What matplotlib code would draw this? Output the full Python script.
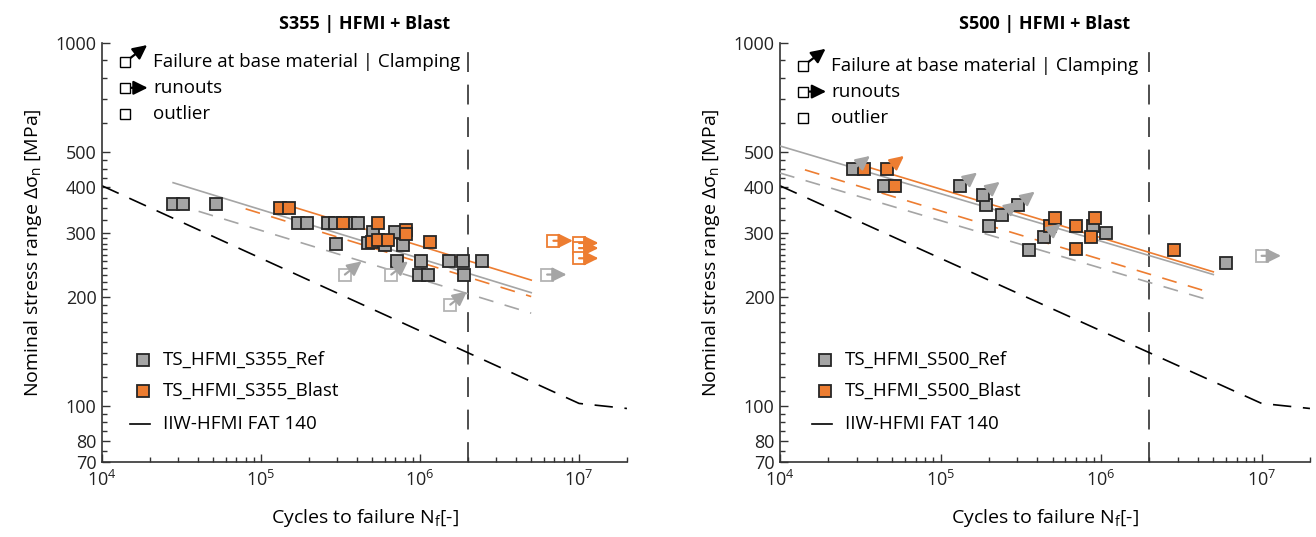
import numpy as np
import matplotlib
matplotlib.use('Agg')
import matplotlib.pyplot as plt
from matplotlib.ticker import FixedLocator, NullFormatter, FuncFormatter

plt.rcParams['font.family'] = ['Open Sans', 'DejaVu Sans']
plt.rcParams['mathtext.fontset'] = 'custom'
plt.rcParams['mathtext.rm'] = 'Open Sans'
plt.rcParams['mathtext.it'] = 'Open Sans'

# ---------------- S355 data ----------------
s355_ref_N = [2.79e4, 3.24e4, 5.2e4, 1.7e5, 1.95e5, 2.65e5, 2.92e5, 3.63e5, 4.07e5,
              2.96e5, 5.08e5, 4.73e5, 6.0e5, 6.97e5, 7.85e5, 7.13e5, 1.02e6,
              9.8e5, 1.13e6, 1.53e6, 1.85e6, 1.89e6, 2.44e6]
s355_ref_S = [359, 359, 359, 318, 318, 318, 318, 318, 318,
              279, 302, 281, 278, 302, 278, 250, 250,
              230, 230, 250, 250, 230, 250]
s355_blast_N = [1.32e5, 1.51e5, 3.3e5, 5.47e5, 5.0e5, 5.47e5, 6.3e5, 8.2e5, 8.2e5, 1.16e6]
s355_blast_S = [350, 350, 318, 318, 282, 286, 286, 306, 297, 283]
# failure at base material / clamping (open, arrow NE)
s355_clamp_N = [3.37e5, 6.6e5, 1.55e6]
s355_clamp_S = [230, 230, 190]
# runouts (open, arrow right)
s355_ref_run_N = [6.3e6]
s355_ref_run_S = [230]
s355_blast_run_N = [6.9e6, 1.0e7, 1.0e7, 1.0e7]
s355_blast_run_S = [285, 281, 272, 255]
# regression lines (mean, characteristic)
s355_ref_mean_N, s355_ref_mean_S = [2.8e4, 5e6], [412, 205]
s355_ref_char_N, s355_ref_char_S = [2.8e4, 5e6], [361, 180]
s355_blast_mean_N, s355_blast_mean_S = [1.3e5, 5e6], [363, 222]
s355_blast_char_N, s355_blast_char_S = [8e4, 5e6], [349, 200]

# ---------------- S500 data ----------------
s500_ref_N = [4.46e4, 1.93e5, 2.0e5, 3.56e5, 8.9e5, 1.08e6, 6.0e6]
s500_ref_S = [404, 358, 313, 269, 312, 300, 247]
s500_ref_base_N = [2.86e4, 1.33e5, 1.84e5, 2.4e5, 3.04e5, 4.42e5]
s500_ref_base_S = [449, 404, 381, 336, 358, 292]
s500_blast_N = [3.33e4, 5.2e4, 4.79e5, 5.14e5, 6.95e5, 6.95e5, 9.1e5, 8.7e5, 2.83e6]
s500_blast_S = [449, 404, 313, 329, 313, 270, 329, 292, 269]
s500_blast_base_N = [4.66e4]
s500_blast_base_S = [449]
s500_ref_run_N = [1.0e7]
s500_ref_run_S = [259]
s500_ref_mean_N, s500_ref_mean_S = [1e4, 5e6], [520, 230]
s500_ref_char_N, s500_ref_char_S = [1e4, 5e6], [438, 194]
s500_blast_mean_N, s500_blast_mean_S = [3e4, 5e6], [465, 234]
s500_blast_char_N, s500_blast_char_S = [1.43e4, 5e6], [447, 204]

# IIW-HFMI FAT 140 design curve (knee points)
fat_N = [1e4, 1e7, 2e7]
fat_S = [404, 101.5, 98.3]
N_ref = 2e6

GRAY = '#a5a5a5'
ORANGE = '#ed7d31'
EDGE = '#262626'
OPEN_GRAY = '#b4b4b4'

y_major = [70, 80, 100, 200, 300, 400, 500, 1000]
y_minor = [75, 85, 90, 95] + list(range(110, 300, 10)) + [325, 350, 375, 425, 450, 475, 600, 700, 800, 900]

TXT = 13.5


def arrow(ax, n, s, dx, dy, color, z=6):
    ax.annotate('', xy=(n, s), xytext=(dx, dy), textcoords='offset points',
                arrowprops=dict(arrowstyle='<|-,head_length=0.85,head_width=0.42',
                                color=color, lw=1.6, shrinkA=0, shrinkB=0,
                                mutation_scale=10),
                annotation_clip=False, zorder=z)


def filled(ax, N, S, color):
    ax.plot(N, S, 's', ls='none', ms=8.5, mfc=color, mec=EDGE, mew=1.3, zorder=4)


def opened(ax, N, S, color):
    ax.plot(N, S, 's', ls='none', ms=8.5, mfc='white', mec=color, mew=1.3, zorder=4)


def setup_axes(ax, title):
    ax.set_xscale('log')
    ax.set_yscale('log')
    ax.set_xlim(1e4, 2e7)
    ax.set_ylim(70, 1000)
    ax.yaxis.set_major_locator(FixedLocator(y_major))
    ax.yaxis.set_major_formatter(FuncFormatter(lambda v, p: f'{v:g}'))
    ax.yaxis.set_minor_locator(FixedLocator(y_minor))
    ax.yaxis.set_minor_formatter(NullFormatter())
    for sp in ['top', 'right']:
        ax.spines[sp].set_visible(False)
    for sp in ['left', 'bottom']:
        ax.spines[sp].set_color('#333333')
        ax.spines[sp].set_linewidth(1.2)
    ax.tick_params(which='both', direction='in', colors='#333333', labelcolor='#222222',
                   labelsize=13, width=1.0)
    ax.tick_params(which='major', length=6)
    ax.tick_params(which='minor', length=3.5)
    ax.tick_params(axis='x', pad=6)
    ax.tick_params(axis='y', pad=4)
    ax.set_title(title, fontsize=13, fontweight='bold', pad=10)
    ax.set_ylabel(r'Nominal stress range $\Delta\sigma_n$ [MPa]', fontsize=14, labelpad=8)
    ax.set_xlabel(r'Cycles to failure N$_f$[-]', fontsize=14, labelpad=12)
    # design curve and reference cycle line
    ax.plot(fat_N, fat_S, color='black', lw=1.2, dashes=(11, 7), zorder=2)
    ax.axvline(N_ref, color='#404040', lw=1.3, dashes=(11, 7), zorder=1)


def lines(ax, mN, mS, cN, cS, color):
    ax.plot(mN, mS, color=color, lw=1.2, zorder=3)
    ax.plot(cN, cS, color=color, lw=1.2, dashes=(9, 7), zorder=3)


def top_legend(ax, y0, dy):
    ys = [y0, y0 - dy, y0 - 2 * dy]
    labels = ['Failure at base material | Clamping', 'runouts', 'outlier']
    for y, lab in zip(ys, labels):
        ax.plot([0.044], [y], 's', transform=ax.transAxes, ms=7.5, mfc='white',
                mec='black', mew=1.0, clip_on=False, zorder=5)
        ax.text(0.097, y, lab, transform=ax.transAxes, fontsize=TXT, va='center', ha='left')
    ax.annotate('', xy=(0.053, ys[0] + 0.008), xycoords='axes fraction',
                xytext=(0.086, ys[0] + 0.04), textcoords='axes fraction',
                arrowprops=dict(arrowstyle='<|-,head_length=0.85,head_width=0.42',
                                color='black', lw=1.6, shrinkA=0, shrinkB=0,
                                mutation_scale=10), annotation_clip=False)
    ax.annotate('', xy=(0.052, ys[1]), xycoords='axes fraction',
                xytext=(0.087, ys[1]), textcoords='axes fraction',
                arrowprops=dict(arrowstyle='<|-,head_length=0.85,head_width=0.42',
                                color='black', lw=1.6, shrinkA=0, shrinkB=0,
                                mutation_scale=10), annotation_clip=False)


def bottom_legend(ax, x_sq, x_txt, ref_label, blast_label):
    ys = [0.2434, 0.1695, 0.0907]
    ax.plot([x_sq], [ys[0]], 's', transform=ax.transAxes, ms=8.5, mfc=GRAY, mec=EDGE, mew=1.3)
    ax.plot([x_sq], [ys[1]], 's', transform=ax.transAxes, ms=8.5, mfc=ORANGE, mec=EDGE, mew=1.3)
    ax.plot([x_sq - 0.025, x_sq + 0.013], [ys[2], ys[2]], transform=ax.transAxes,
            color='black', lw=1.2)
    for y, lab in zip(ys, [ref_label, blast_label, 'IIW-HFMI FAT 140']):
        ax.text(x_txt, y, lab, transform=ax.transAxes, fontsize=TXT, va='center', ha='left')


fig = plt.figure(figsize=(13.16, 5.37), dpi=100)
ax1 = fig.add_axes([0.0775, 0.1397, 0.3989, 0.7803])
ax2 = fig.add_axes([0.5927, 0.1397, 0.4027, 0.7803])

# ---- S355 panel ----
setup_axes(ax1, 'S355 | HFMI + Blast')
lines(ax1, s355_ref_mean_N, s355_ref_mean_S, s355_ref_char_N, s355_ref_char_S, GRAY)
lines(ax1, s355_blast_mean_N, s355_blast_mean_S, s355_blast_char_N, s355_blast_char_S, ORANGE)
filled(ax1, s355_ref_N, s355_ref_S, GRAY)
filled(ax1, s355_blast_N, s355_blast_S, ORANGE)
opened(ax1, s355_clamp_N, s355_clamp_S, OPEN_GRAY)
for n, s in zip(s355_clamp_N, s355_clamp_S):
    arrow(ax1, n, s, 12, 9.5, GRAY)
opened(ax1, s355_ref_run_N, s355_ref_run_S, OPEN_GRAY)
for n, s in zip(s355_ref_run_N, s355_ref_run_S):
    arrow(ax1, n, s, 14, 0, GRAY)
opened(ax1, s355_blast_run_N, s355_blast_run_S, ORANGE)
for n, s in zip(s355_blast_run_N, s355_blast_run_S):
    arrow(ax1, n, s, 14, 0, ORANGE)
top_legend(ax1, 0.955, 0.062)
bottom_legend(ax1, 0.078, 0.116, 'TS_HFMI_S355_Ref', 'TS_HFMI_S355_Blast')

# ---- S500 panel ----
setup_axes(ax2, 'S500 | HFMI + Blast')
lines(ax2, s500_ref_mean_N, s500_ref_mean_S, s500_ref_char_N, s500_ref_char_S, GRAY)
lines(ax2, s500_blast_mean_N, s500_blast_mean_S, s500_blast_char_N, s500_blast_char_S, ORANGE)
filled(ax2, s500_ref_N, s500_ref_S, GRAY)
filled(ax2, s500_ref_base_N, s500_ref_base_S, GRAY)
filled(ax2, s500_blast_N, s500_blast_S, ORANGE)
filled(ax2, s500_blast_base_N, s500_blast_base_S, ORANGE)
for n, s in zip(s500_ref_base_N, s500_ref_base_S):
    arrow(ax2, n, s, 12, 9.5, GRAY)
for n, s in zip(s500_blast_base_N, s500_blast_base_S):
    arrow(ax2, n, s, 12, 9.5, ORANGE)
opened(ax2, s500_ref_run_N, s500_ref_run_S, OPEN_GRAY)
for n, s in zip(s500_ref_run_N, s500_ref_run_S):
    arrow(ax2, n, s, 14, 0, GRAY)
top_legend(ax2, 0.946, 0.062)
bottom_legend(ax2, 0.085, 0.1226, 'TS_HFMI_S500_Ref', 'TS_HFMI_S500_Blast')

fig.savefig('out.png', dpi=100)
